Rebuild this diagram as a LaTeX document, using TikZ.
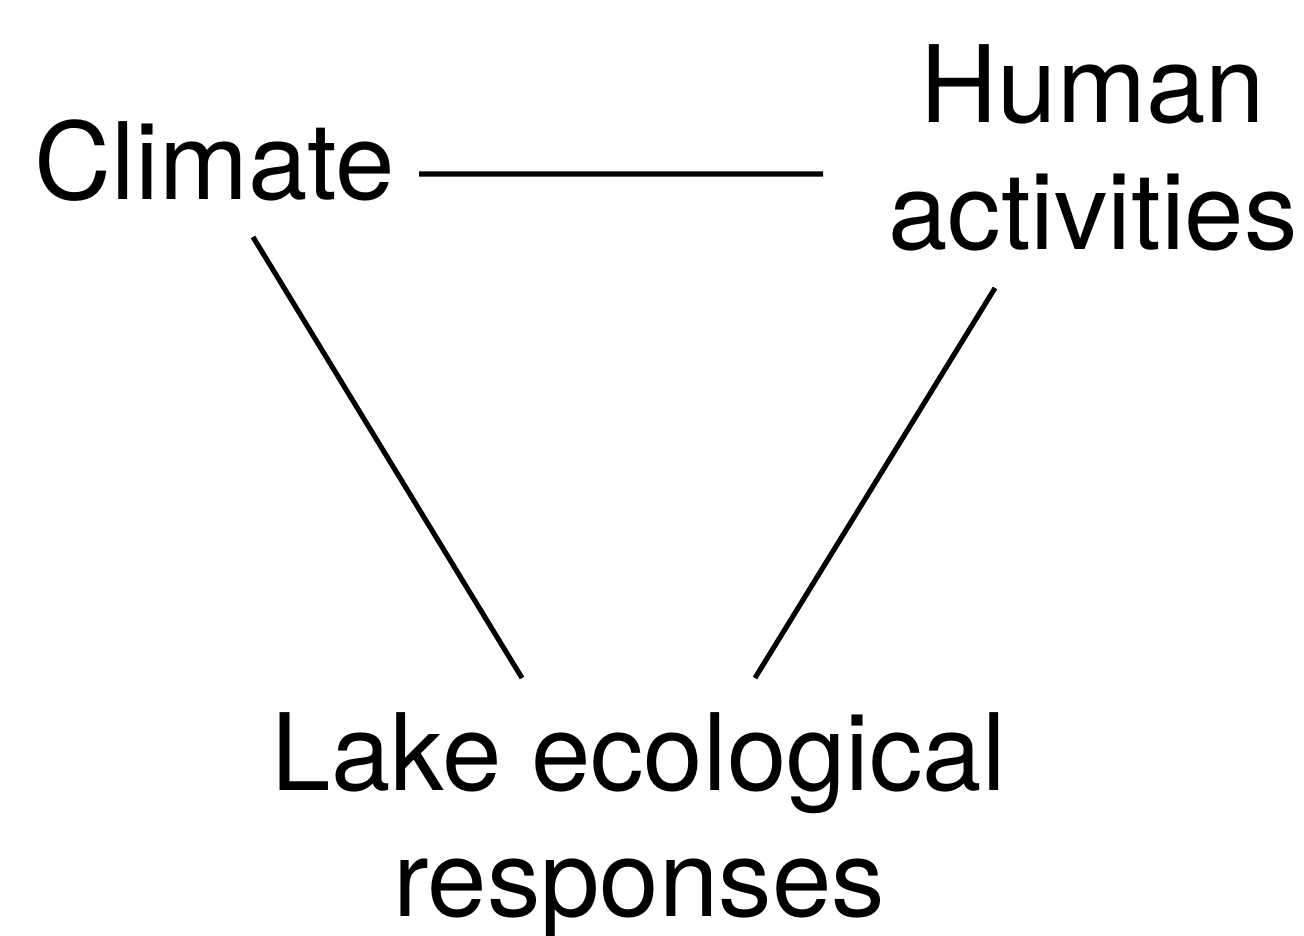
\documentclass[tikz,border=0pt]{standalone}
\usepackage{fontspec}
\setmainfont{TeX Gyre Heros}
\usetikzlibrary{positioning}
\usetikzlibrary{calc}
\tikzset{topic/.style={align=center, inner sep=0pt, font=\fontsize{30.4}{36}\selectfont}}
\tikzset{link/.style={draw, line width=1.45pt}}

\begin{document}
\begin{tikzpicture}
\useasboundingbox (0,0) rectangle (13.04,9.36);
\node[topic] (clim) at (2.15, 7.75) {Climate};
\node[topic] (human) at (10.93, 7.88) {Human\\activities};
\node[topic] (lake) at (6.39, 1.10) {Lake ecological\\responses};

\draw[link] ($(clim)+(2.04,-0.13)$) -- ($(human)+(-2.70,-0.26)$);
\draw[link] ($(clim)+(0.38,-0.76)$) -- ($(lake)+(-1.17,1.48)$);
\draw[link] ($(human)+(-0.98,-1.40)$) -- ($(lake)+(1.16,1.48)$);

\end{tikzpicture}
\end{document}
